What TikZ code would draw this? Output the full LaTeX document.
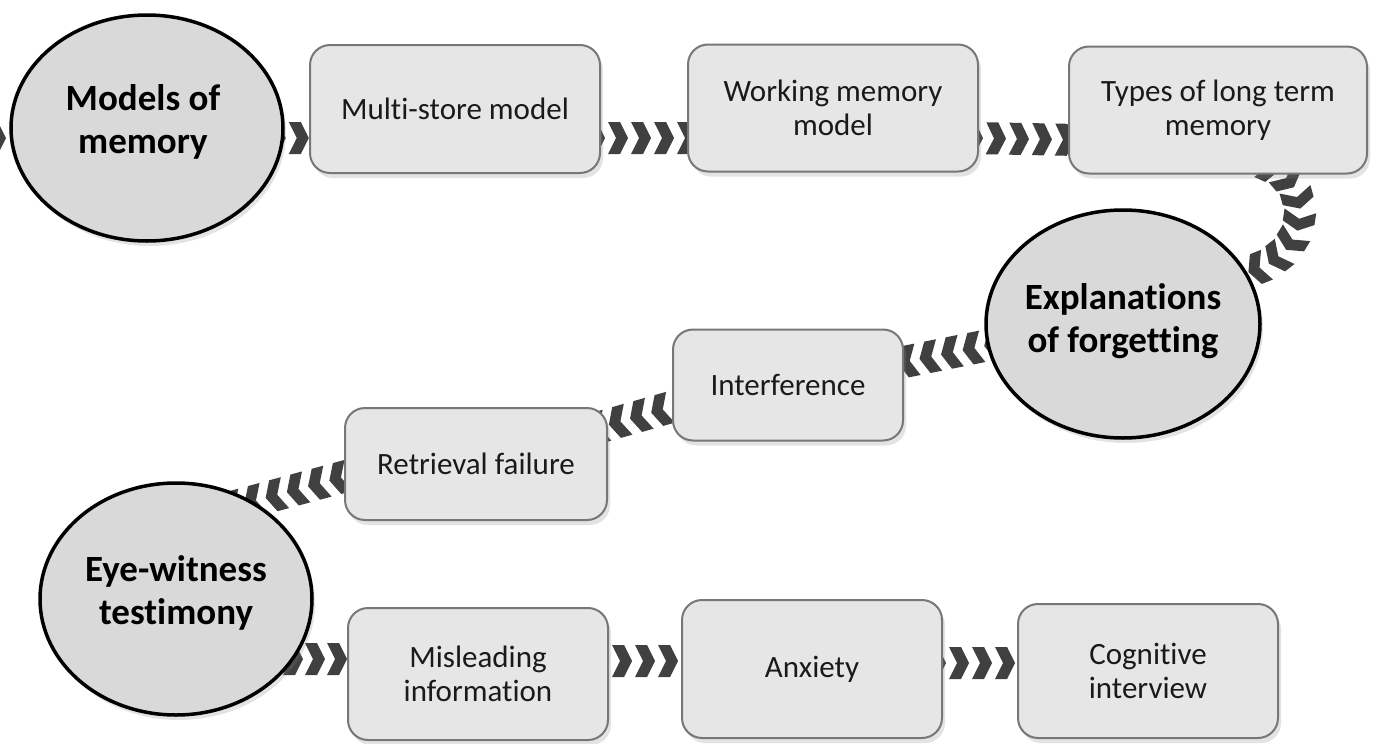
\documentclass[tikz,border=0pt]{standalone}
\usepackage{fontspec}
\setmainfont{Carlito}[Ligatures=NoCommon]
\usetikzlibrary{shapes.geometric,calc,decorations.markings,shadows,backgrounds}
\definecolor{chevcol}{HTML}{404040}
\definecolor{boxfill}{HTML}{E6E6E6}
\definecolor{boxline}{HTML}{7A7676}
\definecolor{circfill}{HTML}{D9D9D9}
\definecolor{txt}{HTML}{1A1A1A}
\begin{document}
\begin{tikzpicture}[x=1pt,y=-1pt,
  box/.style={draw=boxline, line width=2pt, fill=boxfill, rounded corners=20pt,
    inner sep=0pt, align=center, font=\fontsize{31}{34}\selectfont, text=txt,
    drop shadow={opacity=0.22, shadow xshift=3pt, shadow yshift=-5pt}},
  bigcirc/.style={ellipse, draw=black, line width=3.5pt, fill=circfill, inner sep=0pt,
    drop shadow={opacity=0.22, shadow xshift=3pt, shadow yshift=-5pt}},
  circtext/.style={font=\fontsize{37}{43}\selectfont\bfseries, align=center, text=black},
  chev/.style={decoration={markings, mark=between positions 0 and 1 step #1 with
    {\fill[chevcol] (-10,-16) -- (2,-16) -- (10,0) -- (2,16) -- (-10,16) -- (-2,0) -- cycle;}},
    postaction={decorate}}
]
\useasboundingbox (0,0) rectangle (1374,744);

% main nodes
\node[bigcirc, minimum width=272pt, minimum height=226pt] (mm) at (147,128) {};
\node[circtext] (mm-t) at ($(mm.center)+(-4,-6)$) {Models of\\memory};

\node[box, minimum width=290pt, minimum height=128pt] (multi) at (455,109) {Multi-store model};
\node[box, minimum width=290pt, minimum height=127pt] (working) at (833,108) {Working memory\\model};
\node[box, minimum width=298pt, minimum height=127pt] (types) at (1218,110) {Types of long term\\memory};

\node[bigcirc, minimum width=274pt, minimum height=228pt] (expl) at (1123,324) {};
\node[circtext] (expl-t) at ($(expl.center)+(0,-3)$) {Explanations\\of forgetting};

\node[box, minimum width=230pt, minimum height=111pt] (interf) at (788,385) {Interference};
\node[box, minimum width=262pt, minimum height=112pt] (retr) at (476,464) {Retrieval failure};

\node[bigcirc, minimum width=272pt, minimum height=232pt] (eye) at (176,599) {};
\node[circtext] (eye-t) at ($(eye.center)+(0,-6)$) {Eye-witness\\testimony};

\node[box, minimum width=260pt, minimum height=132pt] (misl) at (478,674) {Misleading\\information};
\node[box, minimum width=260pt, minimum height=138pt] (anx) at (812,669) {Anxiety};
\node[box, minimum width=260pt, minimum height=134pt] (cogn) at (1148,671) {Cognitive\\interview};

\coordinate (entry) at (-50,138);

\begin{pgfonlayer}{background}
\fill[white] (0,0) rectangle (1374,744);
% connectors (chevron chains)
\path[chev=23pt] (entry) -- ($(mm.west)+(5,10)$);
\path[chev=23pt] ($(mm.east)+(-9,10)$) -- ($(multi.west)+(15,29)$);
\path[chev=23pt] ($(multi.east)+(-6,29)$) -- ($(working.west)+(10,30)$);
\path[chev=23pt] ($(working.east)+(-6,30)$) -- ($(types.west)+(10,30)$);
\path[chev=22pt] ($(types.south)+(52,-8)$) .. controls ($(types.south)+(96,12)$) and ($(expl.center)+(190,-64)$) .. ($(expl.center)+(115,-50)$);
\path[chev=22pt] ($(expl.center)+(-129,20)$) -- ($(interf.east)+(-15,-20)$);
\path[chev=22pt] ($(interf.west)+(10,19)$) -- ($(retr.east)+(-25,-32)$);
\path[chev=22pt] ($(retr.west)+(-5,14)$) -- ($(eye.center)+(30,-85)$);
\path[chev=22pt] ($(eye.center)+(117,60)$) -- ($(misl.west)+(15,-15)$);
\path[chev=23pt] ($(misl.east)+(-10,-13)$) -- ($(anx.west)+(15,-8)$);
\path[chev=23pt] ($(anx.east)+(-7,-6)$) -- ($(cogn.west)+(15,-8)$);
\end{pgfonlayer}
\end{tikzpicture}
\end{document}
